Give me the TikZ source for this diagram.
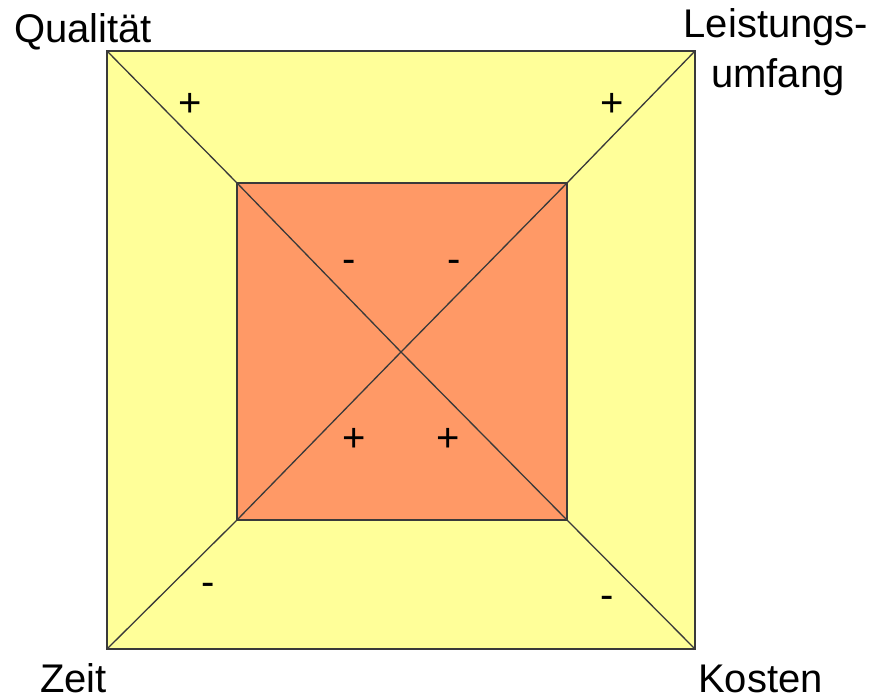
\documentclass[tikz,border=0pt]{standalone}
\usepackage{fontspec}
\setmainfont{Liberation Sans}
\definecolor{outerfill}{HTML}{FFFF99}
\definecolor{innerfill}{HTML}{FF9966}
\definecolor{linecol}{HTML}{3A3A3A}
\begin{document}
\begin{tikzpicture}[x=1pt,y=-1pt,
  frame/.style={draw=linecol,line width=1.6pt},
  diag/.style={draw=linecol,line width=1.3pt},
  corner/.style={font=\fontsize{40}{48}\selectfont,inner sep=0pt,anchor=base west},
  sign/.style={font=\fontsize{40}{44}\selectfont,inner sep=0pt,anchor=base}]
\useasboundingbox (0,0) rectangle (875,699);
\fill[white] (0,0) rectangle (875,699);
% corners
\coordinate (OTL) at (107,51);
\coordinate (OTR) at (695,51);
\coordinate (OBL) at (107,649);
\coordinate (OBR) at (695,649);
\coordinate (ITL) at (237,183);
\coordinate (ITR) at (567,183);
\coordinate (IBL) at (237,520);
\coordinate (IBR) at (567,520);
\coordinate (C) at (401,352);
% squares
\path[fill=outerfill,frame] (OTL) rectangle (OBR);
\path[fill=innerfill,frame,line width=2pt] (ITL) rectangle (IBR);
% diagonals
\draw[diag] (OTL) -- (ITL) -- (C);
\draw[diag] (OTR) -- (ITR) -- (C);
\draw[diag] (OBL) -- (IBL) -- (C);
\draw[diag] (OBR) -- (IBR) -- (C);
% labels
\node[corner] (q) at (14,42) {Qualität};
\node[corner,anchor=base] (l1) at (776,37) {Leistungs-};
\node[corner,anchor=base] (l2) at (778,87) {umfang};
\node[corner] (z) at (40,692) {Zeit};
\node[corner] (k) at (698,692) {Kosten};
% signs
\node[sign] (p1) at (190,116) {+};
\node[sign] (p2) at (612,116) {+};
\node[sign] (p3) at (354,451) {+};
\node[sign] (p4) at (448,451) {+};
\node[sign] (m1) at (349,272.6) {-};
\node[sign] (m2) at (454,272.6) {-};
\node[sign] (m3) at (208,595.6) {-};
\node[sign] (m4) at (607,608.6) {-};
\end{tikzpicture}
\end{document}
